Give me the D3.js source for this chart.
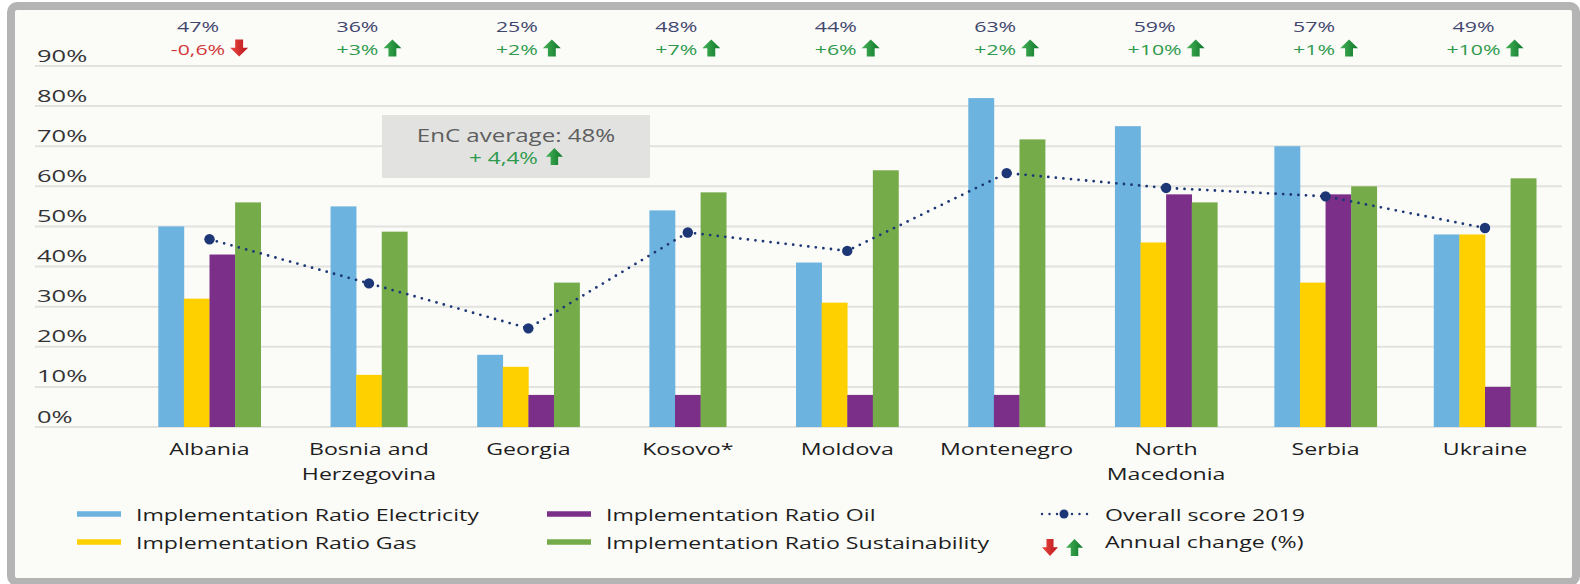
<!DOCTYPE html>
<html><head><meta charset="utf-8">
<script src="https://cdn.jsdelivr.net/npm/d3@7"></script>
<style>
html,body{margin:0;padding:0;background:#ffffff;}
svg{display:block;font-family:"Open Sans","Noto Sans",sans-serif;}
</style>
</head><body>
<svg id="c" width="1580" height="584"></svg>
<script>
// ---------- DATA ----------
const categories = ["Albania","Bosnia and Herzegovina","Georgia","Kosovo*","Moldova","Montenegro","North Macedonia","Serbia","Ukraine"];
const categoryLines = [["Albania"],["Bosnia and","Herzegovina"],["Georgia"],["Kosovo*"],["Moldova"],["Montenegro"],["North","Macedonia"],["Serbia"],["Ukraine"]];
const electricity    = [50, 55, 18, 54, 41, 82, 75, 70, 48];
const gas            = [32, 13, 15, null, 31, null, 46, 36, 48];
const oil            = [43, null, 8, 8, 8, 8, 58, 58, 10];
const sustainability = [56, 48.7, 36, 58.5, 64, 71.7, 56, 60, 62];
const overall        = [46.8, 35.8, 24.6, 48.5, 43.9, 63.3, 59.6, 57.5, 49.6];
const overallLabels  = ["47%","36%","25%","48%","44%","63%","59%","57%","49%"];
const annualChange   = ["-0,6%","+3%","+2%","+7%","+6%","+2%","+10%","+1%","+10%"];
const seriesNames    = ["Implementation Ratio Electricity","Implementation Ratio Gas","Implementation Ratio Oil","Implementation Ratio Sustainability"];
const seriesColors   = ["#6cb3df","#ffd000","#7b2f88","#76ab4a"];
const yTicks         = [0,10,20,30,40,50,60,70,80,90];
const encAverageText = "EnC average: 48%";
const encChangeText  = "+ 4,4%";
const overallName    = "Overall score 2019";
const changeName     = "Annual change (%)";

// ---------- CHART ----------
(function(){
const SX = 1.42;
const svg = d3.select("#c");
const defs = svg.append("defs");
function grad(id, c1, c2){
  const g = defs.append("linearGradient").attr("id",id).attr("x1",0).attr("x2",1).attr("y1",0).attr("y2",0);
  g.append("stop").attr("offset",0).attr("stop-color",c1);
  g.append("stop").attr("offset",1).attr("stop-color",c2);
}
grad("gUp","#47b257","#0d772b");
grad("gDown","#ec4a42","#b8141c");

// frame
svg.append("rect").attr("x",11).attr("y",6).attr("width",1565).attr("height",576).attr("rx",6)
  .attr("fill","#fbfbf8").attr("stroke","#b4b4b4").attr("stroke-width",8);

const x = d3.scalePoint().domain(categories).range([209.5,1485]);
const y = d3.scaleLinear().domain([0,90]).range([427,66]);

function label(g, x0, y0, s, size, color, anchor, sx){
  return g.append("text")
    .attr("transform",`translate(${x0},${y0}) scale(${sx==null?SX:sx},1)`)
    .attr("font-size",size).attr("fill",color)
    .attr("text-anchor",anchor||"start").text(s);
}
function arrow(g, x0, yTop, up, w, h){
  w = w||18; h = h||17;
  const pts = up
    ? [[w/2,0],[w,h*0.52],[w*0.72,h*0.52],[w*0.72,h],[w*0.28,h],[w*0.28,h*0.52],[0,h*0.52]]
    : [[w/2,h],[w,h*0.48],[w*0.72,h*0.48],[w*0.72,0],[w*0.28,0],[w*0.28,h*0.48],[0,h*0.48]];
  g.append("path").attr("d","M"+pts.map(p=>[x0+p[0],yTop+p[1]].join(",")).join("L")+"Z")
    .attr("fill",up?"url(#gUp)":"url(#gDown)");
}

// grid + y labels
const grid = svg.append("g");
grid.selectAll("line").data(yTicks).join("line")
  .attr("x1",35).attr("x2",1562).attr("y1",d=>y(d)).attr("y2",d=>y(d))
  .attr("stroke","#e2e2df").attr("stroke-width",2);
yTicks.forEach(t=>label(grid,37,y(t)-4.5,t+"%",17,"#333333","start",1.5));

// EnC average box
const enc = svg.append("g");
enc.append("rect").attr("x",382).attr("y",115).attr("width",268).attr("height",63).attr("fill","#e2e3e1");
label(enc,516,142,encAverageText,18,"#5e5e5e","middle",1.34);
{
  const t = label(enc,0,164,encChangeText,15.5,"#2e9a4c","start",1.45);
  const w = t.node().getComputedTextLength()*1.45;
  const left = 516 - (w+8+17)/2;
  t.attr("transform",`translate(${left},164) scale(1.45,1)`);
  arrow(enc,left+w+8,148,true,17,17);
}

// bars
const seriesData = [electricity, gas, oil, sustainability];
const BW = 25.6;
const bars = svg.append("g");
categories.forEach((c,i)=>{
  const present = seriesData.map((s,k)=>({k, v:s[i]})).filter(d=>d.v!=null);
  const half = present.length*BW/2;
  const inner = d3.scaleBand().domain(present.map(d=>d.k)).range([x(c)-half, x(c)+half]).padding(0);
  bars.append("g").selectAll("rect").data(present).join("rect")
    .attr("x",d=>inner(d.k)).attr("width",inner.bandwidth()+0.3)
    .attr("y",d=>y(d.v)).attr("height",d=>y(0)-y(d.v))
    .attr("fill",d=>seriesColors[d.k]);
});

// overall dotted line
const line = d3.line().x((d,i)=>x(categories[i])).y(d=>y(d));
svg.append("path").attr("d",line(overall)).attr("fill","none")
  .attr("stroke","#1d3776").attr("stroke-width",2.8)
  .attr("stroke-dasharray","0 7.6").attr("stroke-linecap","round");
svg.append("g").selectAll("circle").data(overall).join("circle")
  .attr("cx",(d,i)=>x(categories[i])).attr("cy",d=>y(d)).attr("r",5.2).attr("fill","#1d3776");

// top labels
const topG = svg.append("g");
categories.forEach((c,i)=>{
  const up = !annualChange[i].startsWith("-");
  const col = up ? "#2e9a4c" : "#d2383a";
  const t2 = label(topG,0,55,annualChange[i],15,col,"start");
  const w = t2.node().getComputedTextLength()*SX;
  const total = w+5+18;
  const left = x(c)-total/2;
  t2.attr("transform",`translate(${left},55) scale(${SX},1)`);
  arrow(topG,left+w+5,39.5,up,18,17);
  label(topG,left+w/2,32,overallLabels[i],15,"#41466d","middle");
});

// category labels
const cat = svg.append("g");
categories.forEach((c,i)=>{
  categoryLines[i].forEach((ln,j)=>label(cat,x(c),455+j*25,ln,16.3,"#1e1e1e","middle"));
});

// legend
const leg = svg.append("g");
const legPos = [[77,514],[77,542],[547,514],[547,542]];
seriesNames.forEach((n,k)=>{
  leg.append("rect").attr("x",legPos[k][0]).attr("y",legPos[k][1]-2.75).attr("width",44).attr("height",5.5).attr("fill",seriesColors[k]);
  label(leg,legPos[k][0]+59,legPos[k][1]+6.5,n,16.3,"#1e1e1e","start");
});
leg.append("line").attr("x1",1042).attr("x2",1093).attr("y1",514).attr("y2",514)
  .attr("stroke","#1d3776").attr("stroke-width",2.4).attr("stroke-dasharray","0 7.5").attr("stroke-linecap","round");
leg.append("circle").attr("cx",1064).attr("cy",514).attr("r",4.5).attr("fill","#1d3776");
label(leg,1105,520.5,overallName,16.3,"#1e1e1e","start");
arrow(leg,1042,539,false,16,17);
arrow(leg,1066,539,true,17,17);
label(leg,1105,548,changeName,16.3,"#1e1e1e","start");
})();
</script>
</body></html>
